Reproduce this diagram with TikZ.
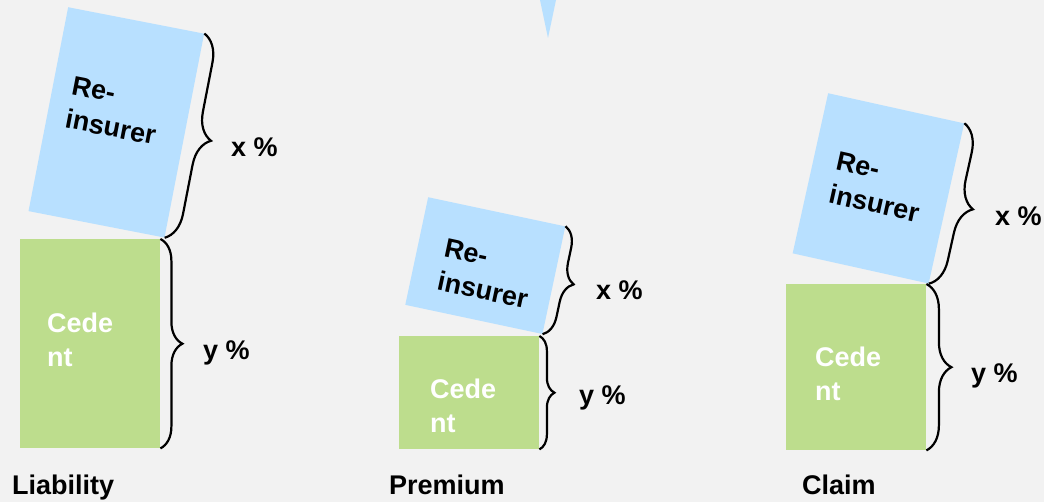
\documentclass[tikz,border=0pt]{standalone}
\usepackage{fontspec}
\setmainfont{Liberation Sans}
\usetikzlibrary{decorations.pathreplacing}
\definecolor{bgcol}{RGB}{242,242,242}
\definecolor{reblue}{RGB}{184,224,255}
\definecolor{cedgreen}{RGB}{189,221,141}
\begin{document}
\begin{tikzpicture}[x=1pt,y=-1pt,
  lbl/.style={font=\fontsize{27}{34}\selectfont\bfseries, inner sep=0pt},
  rbox/.style={fill=reblue, draw=none, inner sep=0pt, anchor=north west},
  cbox/.style={fill=cedgreen, draw=none, inner sep=0pt, anchor=north west},
  rtext/.style={lbl, align=left, text=black, anchor=base west},
  ctext/.style={lbl, align=left, text=white, anchor=base west},
  pct/.style={lbl, anchor=base west},
  caption/.style={lbl, anchor=base west},
  brc/.style={decorate, line width=2.2pt, decoration={brace, amplitude=#1}},
]
\fill[bgcol] (0,0) rectangle (1044,502);
\useasboundingbox (0,0) rectangle (1044,502);

% tip of a shape entering from above
\fill[reblue] (540,0) -- (556,0) -- (548,38) -- cycle;

% ---- Liability ----
% (two-line labels are anchored on the baseline of their last line)
\node[cbox, minimum width=140pt, minimum height=209pt] (cedL) at (20,239) {};
\node[ctext] (cedLt) at (47,367) {Cede\\nt};
\begin{scope}[shift={(68,7)}, rotate=-11, transform shape]
  \node[rbox, minimum width=138.5pt, minimum height=207.7pt] (reL) at (0,0) {};
  \node[rtext] (reLt) at (19,119) {Re-\\insurer};
\end{scope}
\draw[brc=27pt] (reL.north east) -- (reL.south east);
\draw[brc=22pt] (cedL.north east) -- (cedL.south east);
\node[pct] (xL) at (231,157) {x \%};
\node[pct] (yL) at (203,360) {y \%};
\node[caption] (capL) at (12,494) {Liability};

% ---- Premium ----
\node[cbox, minimum width=140pt, minimum height=113pt] (cedP) at (399,336) {};
\node[ctext] (cedPt) at (430,432) {Cede\\nt};
\begin{scope}[shift={(428,197)}, rotate=-12, transform shape]
  \node[rbox, minimum width=140.2pt, minimum height=110pt] (reP) at (0,0) {};
  \node[rtext] (rePt) at (27,89) {Re-\\insurer};
\end{scope}
\draw[brc=20pt] (reP.north east) -- (reP.south east);
\draw[brc=15pt] (cedP.north east) -- (cedP.south east);
\node[pct] (xP) at (596,300) {x \%};
\node[pct] (yP) at (579,405) {y \%};
\node[caption] (capP) at (389,494) {Premium};

% ---- Claim ----
\node[cbox, minimum width=140pt, minimum height=166pt] (cedC) at (786,284) {};
\node[ctext] (cedCt) at (815,400) {Cede\\nt};
\begin{scope}[shift={(828,93)}, rotate=-12.5, transform shape]
  \node[rbox, minimum width=139.3pt, minimum height=164pt] (reC) at (0,0) {};
  \node[rtext] (reCt) at (23,107) {Re-\\insurer};
\end{scope}
\draw[brc=27pt] (reC.north east) -- (reC.south east);
\draw[brc=25pt] (cedC.north east) -- (cedC.south east);
\node[pct] (xC) at (995,226) {x \%};
\node[pct] (yC) at (971,383) {y \%};
\node[caption] (capC) at (802,494) {Claim};
\end{tikzpicture}
\end{document}
